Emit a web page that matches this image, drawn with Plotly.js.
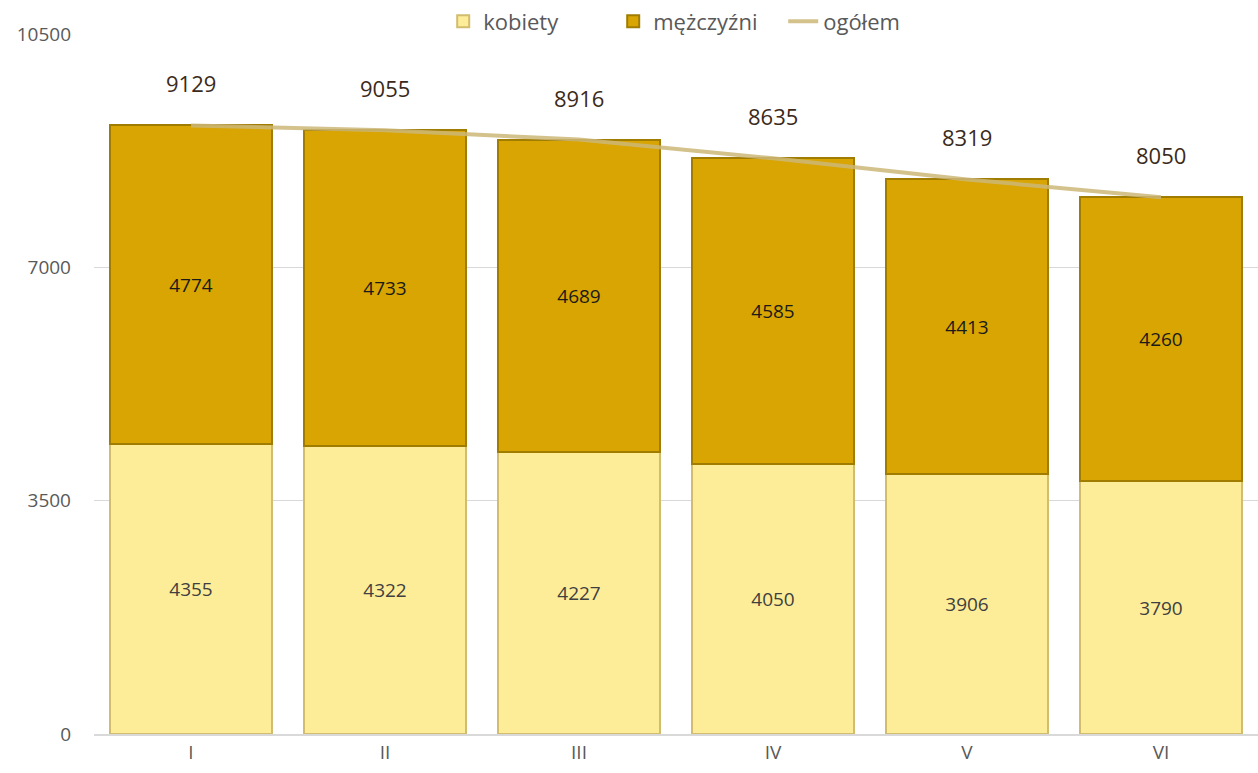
<!DOCTYPE html>
<html>
<head>
<meta charset="utf-8">
<script src="https://cdn.plot.ly/plotly-3.0.1.min.js"></script>
<style>html,body{margin:0;padding:0;background:#fff;}#chart{width:1258px;height:773px;}</style>
</head>
<body>
<div id="chart"></div>
<script>
const categories = ["I", "II", "III", "IV", "V", "VI"];
const kobiety = [4355, 4322, 4227, 4050, 3906, 3790];
const mezczyzni = [4774, 4733, 4689, 4585, 4413, 4260];
const ogolem = [9129, 9055, 8916, 8635, 8319, 8050];
const yTicks = [0, 3500, 7000, 10500];

const fontFam = '"Open Sans", "Liberation Sans", sans-serif';

const traces = [
  {
    type: 'bar', name: 'kobiety', x: categories, y: kobiety,
    text: kobiety.map(String), textposition: 'inside', insidetextanchor: 'middle',
    textfont: {size: 19, color: '#404040', family: fontFam},
    marker: {color: '#FEED98', line: {color: '#D2BC6E', width: 2}},
    hoverinfo: 'skip'
  },
  {
    type: 'bar', name: 'mężczyźni', x: categories, y: mezczyzni,
    text: mezczyzni.map(String), textposition: 'inside', insidetextanchor: 'middle',
    textfont: {size: 19, color: '#1a1a1a', family: fontFam},
    marker: {color: '#D8A502', line: {color: '#A07C00', width: 2}},
    hoverinfo: 'skip'
  },
  {
    type: 'scatter', mode: 'lines', name: 'ogółem', x: categories, y: ogolem,
    line: {color: 'rgba(205,183,120,0.85)', width: 4},
    hoverinfo: 'skip'
  }
];

const annotations = categories.map((c, i) => ({
  x: c, y: ogolem[i], text: String(ogolem[i]), showarrow: false,
  yshift: 42, font: {size: 22, color: '#3B2A1A', family: fontFam}
}));

const layout = {
  width: 1258, height: 773,
  margin: {l: 94, r: 0, t: 34, b: 39, autoexpand: false},
  barmode: 'stack', bargap: 0.16,
  paper_bgcolor: '#ffffff', plot_bgcolor: '#ffffff',
  font: {family: fontFam, color: '#595959', size: 19},
  showlegend: true,
  legend: {orientation: 'h', x: 0.3, xanchor: 'left', y: 1.018, yanchor: 'middle',
           font: {size: 22, color: '#595959', family: fontFam}, traceorder: 'normal',
           entrywidth: 125, entrywidthmode: 'pixels', bgcolor: 'rgba(0,0,0,0)'},
  xaxis: {type: 'category', showgrid: false, showline: true, linecolor: '#D9D9D9', linewidth: 2,
          ticks: '', tickfont: {size: 19, color: '#595959'}, fixedrange: true},
  yaxis: {range: [0, 10500], tickvals: yTicks, ticktext: yTicks.map(String),
          showgrid: true, gridcolor: '#D9D9D9', gridwidth: 1, zeroline: false,
          showline: false, ticks: '', ticklabelstandoff: 22,
          tickfont: {size: 19, color: '#595959'}, fixedrange: true},
  annotations: annotations
};

Plotly.newPlot('chart', traces, layout, {displayModeBar: false, staticPlot: true});
</script>
</body>
</html>
